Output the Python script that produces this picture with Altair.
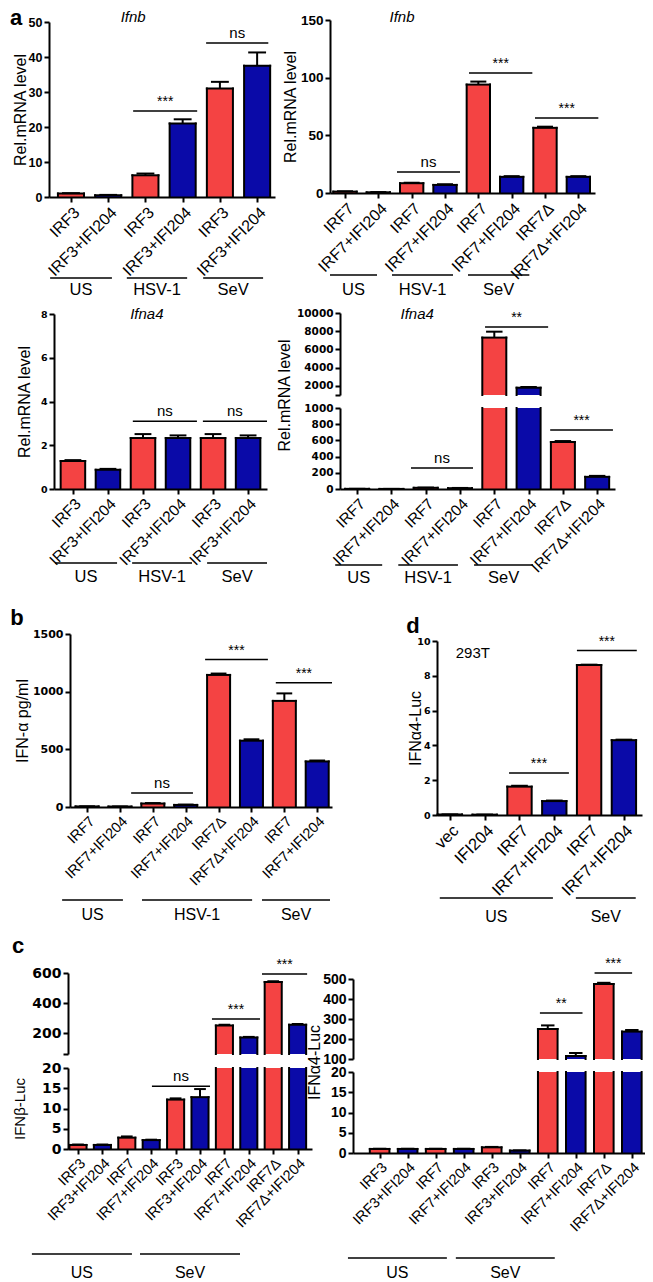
import json
import altair as alt
import pandas as pd

RED = "#F44343"
BLUE = "#0A0AA8"
SANS = "Liberation Sans"
WIDE = "DejaVu Sans"

# ---------------- data ----------------
# a, top left: Ifnb (IRF3)
a1_labels = ["IRF3", "IRF3+IFI204"] * 3
a1_values = [1.0, 0.5, 6.2, 21.0, 31.0, 37.5]
a1_errors = [0.1, 0.1, 0.5, 1.2, 1.9, 3.8]
a1_sig = [[2.17, 3.89, 24.6, "***"], [4.13, 5.80, 44.0, "ns"]]
a1_groups = [[-0.06, 1.60, "US"], [2.00, 3.62, "HSV-1"], [4.05, 5.66, "SeV"]]

# a, top right: Ifnb (IRF7)
a2_labels = ["IRF7", "IRF7+IFI204", "IRF7", "IRF7+IFI204", "IRF7", "IRF7+IFI204", "IRF7Δ", "IRF7Δ+IFI204"]
a2_values = [1.2, 0.6, 8.5, 7.0, 94.0, 14.0, 56.5, 14.0]
a2_errors = [0.3, 0.2, 0.4, 0.6, 2.6, 0.6, 1.0, 0.6]
a2_sig = [[2.06, 3.95, 18.2, "ns"], [4.22, 6.12, 104.0, "***"], [6.20, 8.10, 65.0, "***"]]
a2_groups = [[0.05, 1.46, "US"], [1.91, 3.74, "HSV-1"], [4.19, 6.03, "SeV"]]

# a, bottom left: Ifna4 (IRF3)
a3_labels = ["IRF3", "IRF3+IFI204"] * 3
a3_values = [1.28, 0.88, 2.33, 2.33, 2.33, 2.33]
a3_errors = [0.04, 0.04, 0.18, 0.12, 0.18, 0.12]
a3_sig = [[2.21, 4.04, 3.1, "ns"], [4.21, 6.04, 3.1, "ns"]]
a3_groups = [[-0.01, 1.76, "US"], [2.19, 3.90, "HSV-1"], [4.33, 6.04, "SeV"]]

# a, bottom right: Ifna4 (IRF7), broken axis
a4_labels = a2_labels
a4_values = [2, 1, 15, 10, 7300, 1800, 580, 150]
a4_errors = [0.5, 0.5, 3, 3, 650, 80, 12, 12]
a4_sig_upper = [[4.23, 6.07, 8460, "**"]]
a4_sig_lower = [[2.07, 3.88, 259, "ns"], [6.13, 7.96, 728, "***"]]
a4_groups = [[-0.14, 1.23, "US"], [1.70, 3.44, "HSV-1"], [3.91, 5.63, "SeV"]]

# b
b_labels = ["IRF7", "IRF7+IFI204", "IRF7", "IRF7+IFI204", "IRF7Δ", "IRF7Δ+IFI204", "IRF7", "IRF7+IFI204"]
b_values = [5, 4, 30, 18, 1145, 575, 920, 395]
b_errors = [1, 1, 4, 3, 12, 12, 65, 8]
b_sig = [[1.84, 3.72, 122, "ns"], [4.09, 6.00, 1278, "***"], [6.24, 7.95, 1078, "***"]]
b_groups = [[-0.26, 1.59, "US"], [2.17, 5.52, "HSV-1"], [5.82, 7.89, "SeV"]]

# d
d_labels = ["vec", "IFI204", "IRF7", "IRF7+IFI204", "IRF7", "IRF7+IFI204"]
d_values = [0.03, 0.02, 1.63, 0.80, 8.62, 4.30]
d_errors = [0.005, 0.005, 0.05, 0.03, 0.02, 0.03]
d_sig = [[2.20, 3.92, 2.42, "***"], [4.15, 5.87, 9.45, "***"]]
d_groups = [[0.21, 3.46, "US"], [4.12, 5.84, "SeV"]]

# c, left: IFNb-Luc, broken axis
cl_labels = ["IRF3", "IRF3+IFI204", "IRF7", "IRF7+IFI204", "IRF3", "IRF3+IFI204",
             "IRF7", "IRF7+IFI204", "IRF7Δ", "IRF7Δ+IFI204"]
cl_values = [1.0, 1.0, 2.8, 2.2, 12.2, 12.8, 250, 170, 540, 255]
cl_errors = [0.1, 0.1, 0.3, 0.1, 0.3, 2.0, 5, 4, 5, 5]
cl_sig_upper = [[5.99, 7.96, 293, "***"], [8.04, 9.89, 593, "***"]]
cl_sig_lower = [[3.53, 5.91, 15.5, "ns"]]
cl_groups = [[-1.39, 2.71, "US"], [3.04, 7.14, "SeV"]]

# c, right: IFNa4-Luc, broken axis
cr_labels = cl_labels
cr_values = [1.0, 1.0, 1.0, 1.0, 1.4, 0.6, 250, 115, 475, 237]
cr_errors = [0.05, 0.05, 0.05, 0.05, 0.1, 0.05, 18, 15, 6, 8]
cr_sig_upper = [[6.22, 7.74, 330, "**"], [8.17, 9.51, 530, "***"]]
cr_sig_lower = []
cr_groups = [[-0.63, 2.90, "US"], [3.22, 6.75, "SeV"]]

# ---------------- layout ----------------
W, H = 637, 1274      # whole drawing (page minus 8px margin)
OX, OY = 8, 8         # page margin
HW = 0.35             # half bar width, in bar slots
CW = 0.24             # half cap width
RULE = dict(color="black", strokeWidth=2, strokeCap="square")


def panel(labels, values, errors, *, xdom, ydom, xpx, ypx, yticks, part="full",
          sig=(), groups=(), group_off=None, ytitle=None, title_dx=None, title_y=None,
          title_size=16, tick_font=SANS, tick_size=13, xlab_size=15,
          group_size=16.5, blank=None, notes=()):
    n = len(labels)
    lo, hi = ydom
    (xl, xr), (yb, yt) = xpx, ypx
    upp = (hi - lo) / float(yb - yt)     # data units per pixel
    rows = []
    for i, (v, e) in enumerate(zip(values, errors)):
        rows.append(dict(xa=i + 0.5 - HW, xb=i + 0.5 + HW, xc=i + 0.5,
                         ca=i + 0.5 - CW, cb=i + 0.5 + CW, v=v, top=v + e,
                         ybar=min(v, hi), ybase=lo if part == "upper" else 0,
                         col="r" if i % 2 == 0 else "b"))
    df = pd.DataFrame(rows)
    if part == "upper":
        bdf = df[df.v > lo]
        tdf = edf = bdf
    elif part == "lower":
        bdf = df
        tdf = edf = df[df.v <= hi]
    else:
        bdf = tdf = edf = df

    xs = alt.Scale(domain=list(xdom), range=[xl - OX, xr - OX], nice=False, zero=False)
    ys = alt.Scale(domain=[lo, hi], range=[yb - OY, yt - OY], nice=False, zero=False)

    if part == "upper":
        xaxis = None
    else:
        xaxis = alt.Axis(orient="bottom", offset=(yb - OY) - H, zindex=1,
                         values=[i + 0.5 for i in range(n)],
                         labelExpr=json.dumps(labels) + "[round(datum.value - 0.5)]",
                         labelAngle=-45, labelAlign="right", labelBaseline="top",
                         labelFont=SANS, labelFontSize=xlab_size, labelColor="black",
                         labelPadding=2, labelOverlap=False, labelFlush=False,
                         tickSize=5, tickWidth=2, tickColor="black",
                         domainWidth=2, domainColor="black", grid=False, title=None)
    ykw = dict(orient="left", offset=-(xl - OX), zindex=1, values=yticks, format="d",
               labelFont=tick_font, labelFontWeight="bold", labelFontSize=tick_size,
               labelColor="black", labelPadding=2, labelOverlap=False, labelFlush=False,
               tickSize=5, tickWidth=2, tickColor="black", domainWidth=2,
               domainColor="black", grid=False)
    if blank is not None:
        ykw["labelExpr"] = "datum.value == %s ? '' : datum.label" % blank
    if ytitle:
        ykw.update(title=ytitle, titleFont=SANS, titleFontSize=title_size,
                   titleFontWeight="normal", titleColor="black",
                   titleBaseline="middle", titleAlign="center", titleX=title_dx)
        if title_y is not None:
            ykw["titleY"] = title_y - OY
    else:
        ykw["title"] = None
    yaxis = alt.Axis(**ykw)

    def X(f):
        return alt.X(f, scale=xs, axis=xaxis)

    def Y(f):
        return alt.Y(f, scale=ys, axis=yaxis)

    layers = [
        alt.Chart(bdf).mark_bar(strokeWidth=0).encode(
            x=X("xa:Q"), x2="xb:Q", y=Y("ybar:Q"), y2="ybase:Q",
            color=alt.Color("col:N", scale=alt.Scale(domain=["r", "b"], range=[RED, BLUE]),
                            legend=None)),
        alt.Chart(bdf).mark_rule(**RULE).encode(x=X("xa:Q"), y=Y("ybar:Q"), y2="ybase:Q"),
        alt.Chart(bdf).mark_rule(**RULE).encode(x=X("xb:Q"), y=Y("ybar:Q"), y2="ybase:Q"),
        alt.Chart(tdf).mark_rule(**RULE).encode(x=X("xa:Q"), x2="xb:Q", y=Y("ybar:Q")),
        alt.Chart(edf).mark_rule(color="black", strokeWidth=2).encode(
            x=X("xc:Q"), y=Y("v:Q"), y2="top:Q"),
        alt.Chart(edf).mark_rule(color="black", strokeWidth=2).encode(
            x=X("ca:Q"), x2="cb:Q", y=Y("top:Q")),
    ]
    if len(sig):
        sdf = pd.DataFrame(list(sig), columns=["s0", "s1", "sy", "txt"])
        sdf["sm"] = (sdf.s0 + sdf.s1) / 2
        sdf["fs"] = [15 if t == "ns" else 14 for t in sdf.txt]
        layers.append(alt.Chart(sdf).mark_rule(color="black", strokeWidth=1.5).encode(
            x=X("s0:Q"), x2="s1:Q", y=Y("sy:Q")))
        layers.append(alt.Chart(sdf).mark_text(font=SANS, baseline="alphabetic", dy=-5,
                                               color="black").encode(
            x=X("sm:Q"), y=Y("sy:Q"), text="txt:N",
            size=alt.Size("fs:Q", scale=None, legend=None)))
    if len(groups):
        gdf = pd.DataFrame(list(groups), columns=["g0", "g1", "glab"])
        gdf["gm"] = (gdf.g0 + gdf.g1) / 2
        gdf["gl"] = lo - group_off[0] * upp
        gdf["gt"] = lo - group_off[1] * upp
        layers.append(alt.Chart(gdf).mark_rule(color="black", strokeWidth=1.5).encode(
            x=X("g0:Q"), x2="g1:Q", y=Y("gl:Q")))
        layers.append(alt.Chart(gdf).mark_text(font=SANS, fontSize=group_size,
                                               baseline="middle", color="black").encode(
            x=X("gm:Q"), y=Y("gt:Q"), text="glab:N"))
    for text, nx, ny, style in notes:
        ndf = pd.DataFrame({"t": [text], "x": [nx], "y": [ny]})
        layers.append(alt.Chart(ndf).mark_text(color="black", **style).encode(
            x=X("x:Q"), y=Y("y:Q"), text="t:N"))
    return alt.layer(*layers)


def letter(ch, px, py):
    return alt.Chart(pd.DataFrame({"t": [ch]})).mark_text(
        font=SANS, fontSize=22, fontWeight="bold", baseline="alphabetic",
        align="center", color="black").encode(
        x=alt.value(px - OX), y=alt.value(py - OY), text="t:N")


ITAL = dict(font=SANS, fontSize=15, fontStyle="italic", baseline="middle")

panels = [
    panel(a1_labels, a1_values, a1_errors, xdom=(-0.09, 5.98), ydom=(0, 50),
          xpx=(49, 275), ypx=(197, 22), yticks=[0, 10, 20, 30, 40, 50],
          sig=a1_sig, groups=a1_groups, group_off=(81, 93),
          ytitle="Rel.mRNA level", title_dx=-29, tick_size=12.5, xlab_size=16,
          notes=[("Ifnb", 2.17, 51.4, ITAL)]),
    panel(a2_labels, a2_values, a2_errors, xdom=(0.05, 8.0), ydom=(0, 150),
          xpx=(330, 595), ypx=(193, 20), yticks=[0, 50, 100, 150],
          sig=a2_sig, groups=a2_groups, group_off=(82, 97),
          ytitle="Rel.mRNA level", title_dx=-40, tick_size=13.5, xlab_size=16,
          notes=[("Ifnb", 2.21, 152.6, ITAL)]),
    panel(a3_labels, a3_values, a3_errors, xdom=(-0.04, 6.04), ydom=(0, 8),
          xpx=(54, 267), ypx=(489, 314), yticks=[0, 2, 4, 6, 8],
          sig=a3_sig, groups=a3_groups, group_off=(74, 88),
          ytitle="Rel.mRNA level", title_dx=-30, tick_font=WIDE, tick_size=9.5,
          xlab_size=15.5, notes=[("Ifna4", 2.61, 8.0, ITAL)]),
    panel(a4_labels, a4_values, a4_errors, xdom=(0.0, 8.02), ydom=(1000, 10000),
          xpx=(340, 615), ypx=(395, 313), part="upper",
          yticks=[1000, 2000, 4000, 6000, 8000, 10000], blank=1000,
          sig=a4_sig_upper, tick_font=WIDE, tick_size=10.5,
          notes=[("Ifna4", 2.25, 9890, ITAL)]),
    panel(a4_labels, a4_values, a4_errors, xdom=(0.0, 8.02), ydom=(0, 1000),
          xpx=(340, 615), ypx=(489, 408), part="lower",
          yticks=[0, 200, 400, 600, 800, 1000], sig=a4_sig_lower,
          groups=a4_groups, group_off=(76, 89),
          ytitle="Rel.mRNA level", title_dx=-56, title_y=395,
          tick_font=WIDE, tick_size=10.5, xlab_size=15.5),
    panel(b_labels, b_values, b_errors, xdom=(-0.02, 7.95), ydom=(0, 1500),
          xpx=(70, 332), ypx=(807, 634), yticks=[0, 500, 1000, 1500],
          sig=b_sig, groups=b_groups, group_off=(93, 108),
          ytitle="IFN-α pg/ml", title_dx=-48, tick_font=WIDE, tick_size=11,
          xlab_size=14.5, group_size=16),
    panel(d_labels, d_values, d_errors, xdom=(0.13, 6.02), ydom=(0, 10),
          xpx=(437, 642), ypx=(815, 641), yticks=[0, 2, 4, 6, 8, 10],
          sig=d_sig, groups=d_groups, group_off=(83, 102),
          ytitle="IFNα4-Luc", title_dx=-22, tick_font=WIDE, tick_size=9.5,
          xlab_size=16.5, group_size=16,
          notes=[("293T", 1.16, 9.31, dict(font=SANS, fontSize=15, baseline="middle"))]),
    panel(cl_labels, cl_values, cl_errors, xdom=(0.09, 10.09), ydom=(60, 600),
          xpx=(68, 312), ypx=(1054, 973), part="upper", yticks=[60, 200, 400, 600],
          blank=60, sig=cl_sig_upper, tick_font=WIDE, tick_size=14),
    panel(cl_labels, cl_values, cl_errors, xdom=(0.09, 10.09), ydom=(0, 20),
          xpx=(68, 312), ypx=(1149, 1068), part="lower", yticks=[0, 5, 10, 15, 20],
          sig=cl_sig_lower, groups=cl_groups, group_off=(105, 124),
          ytitle="IFNβ-Luc", title_dx=-49, title_size=15, tick_font=WIDE, tick_size=14,
          xlab_size=14.5, group_size=16),
    panel(cr_labels, cr_values, cr_errors, xdom=(-0.45, 9.97), ydom=(100, 500),
          xpx=(353, 645), ypx=(1059, 979), part="upper",
          yticks=[100, 200, 300, 400, 500], sig=cr_sig_upper, tick_size=14),
    panel(cr_labels, cr_values, cr_errors, xdom=(-0.45, 9.97), ydom=(0, 20),
          xpx=(353, 645), ypx=(1153, 1072), part="lower", yticks=[0, 5, 10, 15, 20],
          sig=cr_sig_lower, groups=cr_groups, group_off=(105, 120),
          ytitle="IFNα4-Luc", title_dx=-39, title_y=1062, tick_size=14,
          xlab_size=14.5, group_size=16),
    letter("a", 16, 25),
    letter("b", 17, 625),
    letter("d", 413, 633),
    letter("c", 18, 953),
]

chart = alt.layer(*panels).resolve_scale(
    x="independent", y="independent").resolve_axis(
    x="independent", y="independent").properties(
    width=W, height=H, autosize=alt.AutoSizeParams(type="none"), padding=0
).configure_view(stroke=None)

chart.save("out.html", embed_options={"renderer": "svg", "actions": False})
